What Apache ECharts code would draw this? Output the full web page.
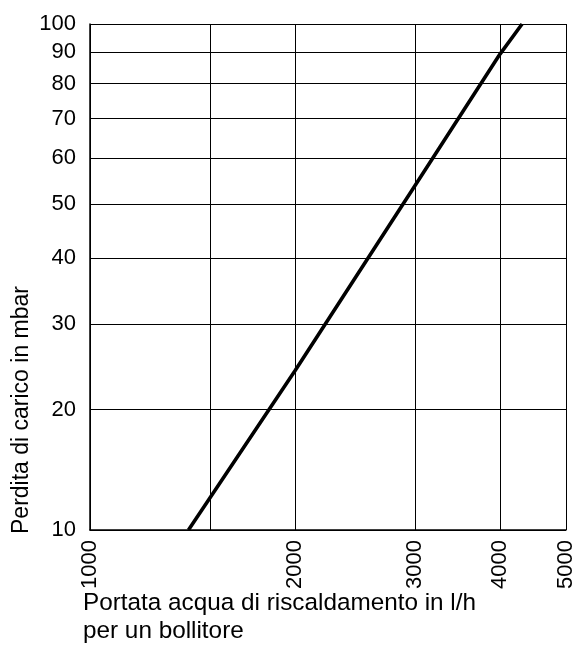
<!DOCTYPE html>
<html>
<head>
<meta charset="utf-8">
<script src="https://cdn.jsdelivr.net/npm/echarts@6/dist/echarts.min.js"></script>
<style>
  html, body { margin: 0; padding: 0; background: #fff; }
  #chart { width: 580px; height: 660px; }
</style>
</head>
<body>
<div id="chart"></div>
<script>
// Flow rate (l/h) against pressure loss (mbar) for one storage tank
const flowRate = [1395, 2000, 3000, 4000, 4310];
const pressureLoss = [10, 24.2, 53.8, 89.4, 100];

// Grid values on each axis; 1500 has a grid line but no label
const flowGrid = [1000, 1500, 2000, 3000, 4000, 5000];
const flowLabels = [1000, 2000, 3000, 4000, 5000];
const lossGrid = [10, 20, 30, 40, 50, 60, 70, 80, 90, 100];

// Axis scales: logarithmic flow, log(p + 10) pressure loss
const fx = v => Math.log10(v);
const fy = v => Math.log10(v + 10);
const gx = t => Math.round(Math.pow(10, t));
const gy = t => Math.round(Math.pow(10, t) - 10);

const FONT = 'Liberation Sans, Arial, sans-serif';
const gridLine = { show: true, lineStyle: { color: '#000', width: 1, type: 'solid' } };

const chart = echarts.init(document.getElementById('chart'), null, { renderer: 'canvas' });
chart.setOption({
  backgroundColor: '#fff',
  animation: false,
  grid: { left: 90, right: 14, top: 24, bottom: 130, containLabel: false, outerBoundsMode: 'none' },
  xAxis: {
    type: 'value',
    min: fx(1000),
    max: fx(5000),
    name: 'Portata acqua di riscaldamento in l/h\nper un bollitore',
    nameLocation: 'start',
    nameGap: 7,
    nameMoveOverlap: false,
    nameTextStyle: {
      fontFamily: FONT, fontSize: 24.3, color: '#000',
      align: 'left', verticalAlign: 'top', lineHeight: 28,
      padding: [59, 0, 0, 0]
    },
    axisLine: { show: true, onZero: false, lineStyle: { color: '#000', width: 1.5 } },
    axisTick: { show: false, customValues: flowGrid.map(fx) },
    axisLabel: {
      customValues: flowLabels.map(fx),
      formatter: v => String(gx(v)),
      rotate: 90,
      margin: 10,
      fontFamily: FONT, fontSize: 22, color: '#000'
    },
    splitLine: gridLine
  },
  yAxis: {
    type: 'value',
    min: fy(10),
    max: fy(100),
    name: 'Perdita di carico in mbar',
    nameLocation: 'middle',
    nameGap: 57,
    nameMoveOverlap: false,
    nameTextStyle: {
      fontFamily: FONT, fontSize: 23, color: '#000',
      padding: [0, 266, 0, 0]
    },
    axisLine: { show: true, onZero: false, lineStyle: { color: '#000', width: 1.5 } },
    axisTick: { show: false, customValues: lossGrid.map(fy) },
    axisLabel: {
      customValues: lossGrid.map(fy),
      formatter: v => String(gy(v)),
      margin: 14,
      fontFamily: FONT, fontSize: 22, color: '#000'
    },
    splitLine: gridLine
  },
  series: [{
    type: 'line',
    data: flowRate.map((q, i) => [fx(q), fy(pressureLoss[i])]),
    symbol: 'none',
    lineStyle: { color: '#000', width: 3.6, cap: 'butt' },
    silent: true
  }]
});
</script>
</body>
</html>
